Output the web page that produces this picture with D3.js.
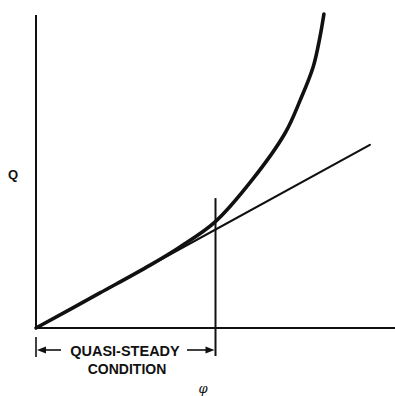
<!DOCTYPE html>
<html>
<head>
<meta charset="utf-8">
<script src="https://cdn.jsdelivr.net/npm/d3@7"></script>
<style>
  html, body { margin: 0; padding: 0; background: #fff; }
  svg { display: block; }
</style>
</head>
<body>
<div id="chart"></div>
<script>
// Flow Q against φ, in arbitrary units (0–10 on each axis)
const curvePhi = [0, 1.78, 3.18, 4.01, 4.99, 6.02, 6.94, 7.36, 7.72, 7.91, 8.02];
const curveQ   = [0, 1.12, 2.01, 2.59, 3.39, 4.73, 6.23, 7.28, 8.34, 9.30, 10.03];
// Linear (quasi-steady) relation
const linePhi = [0, 9.30];
const lineQ   = [0, 5.85];
// Limit of the quasi-steady range
const limitPhi = 5.0;
const limitQTop = 4.15;
const axisLabels = ["Q", "φ"];
const rangeLabel = ["QUASI-STEADY", "CONDITION"];

const W = 395, H = 396;
const svg = d3.select("#chart").append("svg")
  .attr("width", W).attr("height", H);

const x = d3.scaleLinear().domain([0, 10]).range([36, 395]);
const y = d3.scaleLinear().domain([0, 10]).range([328, 15]);

const ink = "#111";

// Axes
svg.append("line")
  .attr("x1", x(0)).attr("x2", x(0))
  .attr("y1", y(0)).attr("y2", y(10))
  .attr("stroke", ink).attr("stroke-width", 2);
svg.append("line")
  .attr("x1", x(0)).attr("x2", x(10))
  .attr("y1", y(0)).attr("y2", y(0))
  .attr("stroke", ink).attr("stroke-width", 2);

// Straight line
const lineGen = d3.line().x(d => x(d[0])).y(d => y(d[1]));
svg.append("path")
  .datum(d3.zip(linePhi, lineQ))
  .attr("d", lineGen)
  .attr("fill", "none").attr("stroke", ink).attr("stroke-width", 2.2)
  .attr("stroke-linecap", "round");

// Rising curve
const curveGen = d3.line().x(d => x(d[0])).y(d => y(d[1]))
  .curve(d3.curveCatmullRom.alpha(0.5));
svg.append("path")
  .datum(d3.zip(curvePhi, curveQ))
  .attr("d", curveGen)
  .attr("fill", "none").attr("stroke", ink).attr("stroke-width", 3.6)
  .attr("stroke-linecap", "round");

// Limit marker, extending below the axis to the range bracket
const bracketY = 350;
svg.append("line")
  .attr("x1", x(limitPhi)).attr("x2", x(limitPhi))
  .attr("y1", y(limitQTop)).attr("y2", bracketY + 6)
  .attr("stroke", ink).attr("stroke-width", 2);
svg.append("line")
  .attr("x1", x(0)).attr("x2", x(0))
  .attr("y1", bracketY - 13).attr("y2", bracketY + 7)
  .attr("stroke", ink).attr("stroke-width", 1.6);

// Bracket arrows
const xl = x(0) + 1, xr = x(limitPhi) - 1;
const arrow = (tip, dir) => {
  svg.append("path")
    .attr("d", `M${tip},${bracketY} L${tip + dir * 9},${bracketY - 3.5} L${tip + dir * 9},${bracketY + 3.5} Z`)
    .attr("fill", ink);
};
svg.append("line").attr("x1", xl + 5).attr("x2", 61)
  .attr("y1", bracketY).attr("y2", bracketY)
  .attr("stroke", ink).attr("stroke-width", 1.6);
svg.append("line").attr("x1", 187).attr("x2", xr - 5)
  .attr("y1", bracketY).attr("y2", bracketY)
  .attr("stroke", ink).attr("stroke-width", 1.6);
arrow(xl, 1);
arrow(xr, -1);

const font = "'Liberation Sans', Arial, sans-serif";
svg.append("text")
  .attr("x", 125).attr("y", 356)
  .attr("text-anchor", "middle")
  .attr("font-family", font).attr("font-weight", "bold")
  .attr("font-size", 14.5).attr("fill", ink)
  .text(rangeLabel[0]);
svg.append("text")
  .attr("x", 127).attr("y", 374)
  .attr("text-anchor", "middle")
  .attr("font-family", font).attr("font-weight", "bold")
  .attr("font-size", 14).attr("fill", ink)
  .text(rangeLabel[1]);

// Axis labels
svg.append("text")
  .attr("x", 13).attr("y", 179)
  .attr("text-anchor", "middle")
  .attr("font-family", font).attr("font-weight", "bold")
  .attr("font-size", 13).attr("fill", ink)
  .text(axisLabels[0]);
svg.append("text")
  .attr("x", 203).attr("y", 393)
  .attr("text-anchor", "middle")
  .attr("font-family", "'DejaVu Serif', serif").attr("font-style", "italic")
  .attr("font-size", 13).attr("fill", ink)
  .text(axisLabels[1]);
</script>
</body>
</html>
